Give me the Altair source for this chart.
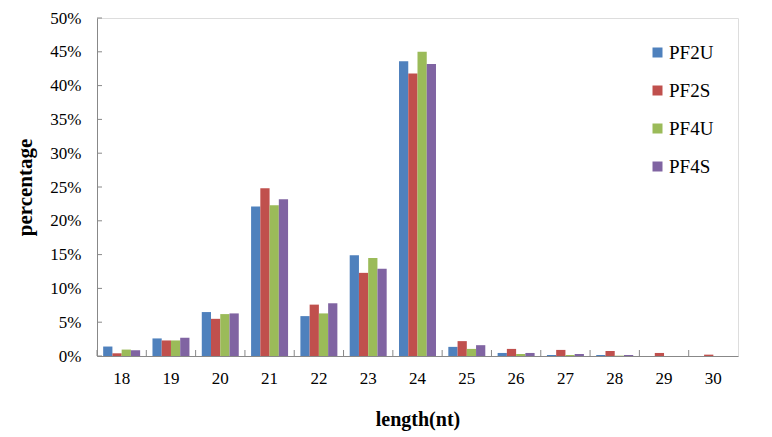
import altair as alt
import pandas as pd

lengths = ["18", "19", "20", "21", "22", "23", "24", "25", "26", "27", "28", "29", "30"]
series = ["PF2U", "PF2S", "PF4U", "PF4S"]
pf2u = [1.4, 2.6, 6.5, 22.1, 5.9, 14.9, 43.6, 1.35, 0.45, 0.15, 0.15, 0.0, 0.0]
pf2s = [0.4, 2.3, 5.5, 24.8, 7.6, 12.3, 41.8, 2.2, 1.05, 0.9, 0.75, 0.45, 0.2]
pf4u = [0.95, 2.3, 6.2, 22.3, 6.3, 14.5, 45.0, 1.05, 0.3, 0.15, 0.05, 0.0, 0.0]
pf4s = [0.85, 2.7, 6.3, 23.2, 7.8, 12.9, 43.2, 1.6, 0.45, 0.3, 0.15, 0.0, 0.0]
y_ticks = [i * 0.05 for i in range(11)]
colors = ["#4F81BD", "#C0504D", "#9BBB59", "#8064A2"]

rows = []
for name, vals in zip(series, [pf2u, pf2s, pf4u, pf4s]):
    for l, v in zip(lengths, vals):
        rows.append({"length": l, "series": name, "value": v / 100.0})
df = pd.DataFrame(rows)
ticks_df = pd.DataFrame({"value": y_ticks})
xt_df = pd.DataFrame({"length": lengths})

font = "Liberation Serif"
W = 641
pin = 0.25
half_gap = pin / 2 * W / len(lengths)

xscale = alt.Scale(domain=lengths, paddingInner=pin, paddingOuter=pin / 2)
yscale = alt.Scale(domain=[0, 0.5])

x_axis = alt.Axis(title="length(nt)", labelAngle=0, tickSize=0, tickOpacity=0,
                  labelFont=font, labelFontSize=17, labelColor="#000",
                  labelPadding=14, domainColor="#888", titleFont=font, titleFontSize=20,
                  titleFontWeight="bold", titleColor="#000", titlePadding=23)
y_axis = alt.Axis(title="percentage", format=".0%", values=y_ticks,
                  tickSize=0, tickOpacity=0, labelOverlap=False,
                  grid=False, labelFont=font, labelFontSize=17, labelColor="#000",
                  labelPadding=16, domainColor="#888",
                  titleFont=font, titleFontSize=21, titleFontWeight="bold",
                  titleColor="#000", titlePadding=14)

bars = alt.Chart(df).mark_bar().encode(
    x=alt.X("length:N", sort=lengths, scale=xscale, axis=x_axis),
    xOffset=alt.XOffset("series:N", sort=series),
    y=alt.Y("value:Q", scale=yscale, axis=y_axis),
    color=alt.Color("series:N", sort=series,
                    scale=alt.Scale(domain=series, range=colors),
                    legend=alt.Legend(title=None, orient="none", legendX=551, legendY=25,
                                      symbolType="square", symbolSize=100, symbolStrokeWidth=0,
                                      labelFont=font, labelFontSize=19, labelColor="#000",
                                      rowPadding=18, labelOffset=2)),
)

yticks = alt.Chart(ticks_df).mark_rule(color="#888", strokeWidth=1).encode(
    y=alt.Y("value:Q", scale=yscale, axis=y_axis),
    x=alt.value(0), x2=alt.value(5),
)

xticks = alt.Chart(xt_df).mark_rule(color="#888", strokeWidth=1, xOffset=-half_gap).encode(
    x=alt.X("length:N", sort=lengths, scale=xscale, bandPosition=0, axis=x_axis),
    y=alt.value(332), y2=alt.value(338),
)

chart = alt.layer(bars, yticks, xticks).properties(
    width=W, height=338,
    autosize=alt.AutoSizeParams(type="none"),
    padding={"left": 89, "top": 10, "right": 25, "bottom": 81},
).configure_view(stroke=None).configure(font=font)

chart.save("out.html", embed_options={"renderer": "svg", "actions": False})
